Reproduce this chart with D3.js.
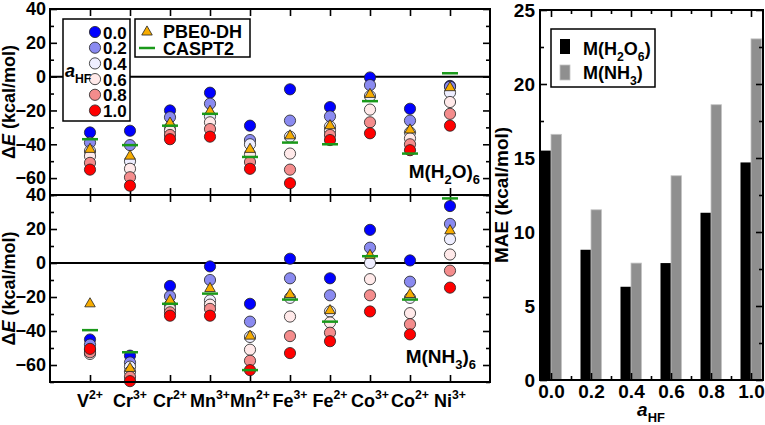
<!DOCTYPE html>
<html>
<head>
<meta charset="utf-8">
<script src="https://cdn.jsdelivr.net/npm/d3@7"></script>
<style>
  body { margin: 0; background: #fff; }
  svg { display: block; }
  text { font-family: "Liberation Sans", Arial, Helvetica, sans-serif; font-weight: bold; fill: #000; }
</style>
</head>
<body>
<div id="hook-chart"></div>
<script>
'use strict';

// --- data ---
var ions = ['V', 'Cr', 'Cr', 'Mn', 'Mn', 'Fe', 'Fe', 'Co', 'Co', 'Ni'];
var charges = ['2+', '3+', '2+', '3+', '2+', '3+', '2+', '3+', '2+', '3+'];
var aHF = [0.0, 0.2, 0.4, 0.6, 0.8, 1.0];
var aHFLabels = ['0.0', '0.2', '0.4', '0.6', '0.8', '1.0'];

// M(H2O)6 : one row per ion, one value per aHF
var h2oValues = [
  [-33, -39, -44, -47, -51, -55],
  [-32, -40.5, -50, -54.5, -59.5, -64.5],
  [-20, -24, -30, -32, -34.5, -37],
  [-9.5, -16, -23.5, -27, -31, -35.5],
  [-29, -37.5, -40, -46, -50.5, -54.5],
  [-7.5, -26, -35.5, -45.5, -55, -63],
  [-18, -23.5, -29.5, -32, -34.5, -37.5],
  [-0.5, -5, -11.5, -19.5, -27, -33.5],
  [-19, -26, -33, -36.5, -40, -43.5],
  [-5.5, -6, -9.5, -15, -22, -29]
];
var h2oPBE0 = [-43, -47, -27.5, -20.5, -43, -35, -29, -10.5, -31.5, -6.5];
var h2oCASPT2 = [-37, -40.5, -29, -22, -47.5, -39, -40, -14.5, -45.5, 2];

// M(NH3)6
var nh3Values = [
  [-45, -48, -51, -53.5, -52.5, -50.5],
  [-54.5, -58.5, -61, -64, -67, -69.5],
  [-13.5, -19.5, -24.5, -27, -29, -31],
  [-2, -10, -22, -24.5, -27, -31],
  [-24, -34.5, -43.5, -51, -57.5, -63],
  [2.5, -9, -20.5, -31.5, -43, -53],
  [-9, -19, -28.5, -35, -41, -46],
  [19.5, 9, 0, -9.5, -19, -28.5],
  [1.5, -11, -20.5, -29.5, -36, -42],
  [33.5, 23, 14, 5, -4.5, -14.5]
];
var nh3PBE0 = [-24, -62, -22, -15, -43, -18.5, -28, 4.5, -18.5, 19];
var nh3CASPT2 = [-39.5, -52.5, -24, -18, -63, -21.5, -34.5, 4, -21.5, 38];

// MAE per aHF
var maeH2O = [15.5, 8.8, 6.3, 7.9, 11.3, 14.7];
var maeNH3 = [16.6, 11.5, 7.9, 13.8, 18.6, 23.05];

var yMajor = [-60, -40, -20, 0, 20, 40];
var yMinor = [-70, -50, -30, -10, 10, 30];
var maeMajor = [0, 5, 10, 15, 20, 25];
var maeMinor = [2.5, 7.5, 12.5, 17.5, 22.5];
var aMinor = [0.1, 0.3, 0.5, 0.7, 0.9];

var circleColors = ['#0000ff', '#8a8af0', '#eeeeff', '#ffe9e9', '#f48c8c', '#ff0000'];
var triColor = '#f7ac00';
var greenColor = '#1a991a';

var width = 765, height = 425;

var svg = d3.select('#hook-chart')
  .append('svg')
  .attr('width', width)
  .attr('height', height);

// write text with sub/superscript parts
function rich(sel, parts, size) {
  var cur = 0;
  parts.forEach(function(p) {
    var target = p.sub ? size * 0.32 : (p.sup ? -size * 0.42 : 0);
    var t = sel.append('tspan').text(p.t)
      .attr('dy', target - cur);
    if (p.sub || p.sup) t.attr('font-size', size * 0.68);
    if (p.i) t.attr('font-style', 'italic');
    cur = target;
  });
  return sel;
}

function noDomain(a) { a.select('.domain').remove(); }

var x = d3.scaleLinear().domain([-1, 10]).range([50, 490]);

function panel(top, bottom, values, pbe0, caspt2, label, showX) {
  var y = d3.scaleLinear().domain([-70, 40]).range([bottom, top]);
  var g = svg.append('g');

  // ticks, all pointing inward
  g.append('g').attr('transform', 'translate(50,0)')
    .call(d3.axisLeft(y).tickValues(yMajor).tickSize(-7).tickPadding(4))
    .call(noDomain)
    .call(function(a) { a.selectAll('text').attr('font-size', 18).attr('font-family', null); });
  g.append('g').attr('transform', 'translate(50,0)')
    .call(d3.axisLeft(y).tickValues(yMinor).tickSize(-4).tickFormat('')).call(noDomain);
  g.append('g').attr('transform', 'translate(490,0)')
    .call(d3.axisRight(y).tickValues(yMajor).tickSize(-7).tickFormat('')).call(noDomain);
  g.append('g').attr('transform', 'translate(490,0)')
    .call(d3.axisRight(y).tickValues(yMinor).tickSize(-4).tickFormat('')).call(noDomain);
  g.append('g').attr('transform', 'translate(0,' + top + ')')
    .call(d3.axisTop(x).tickValues(d3.range(10)).tickSize(-7).tickFormat('')).call(noDomain);
  g.append('g').attr('transform', 'translate(0,' + bottom + ')')
    .call(d3.axisBottom(x).tickValues(d3.range(10)).tickSize(-7).tickFormat('')).call(noDomain);
  g.selectAll('.tick line').attr('stroke', '#000').attr('stroke-width', 1.6);

  // zero line
  g.append('line')
    .attr('x1', x(-1)).attr('x2', x(10))
    .attr('y1', y(0)).attr('y2', y(0))
    .attr('stroke', '#000').attr('stroke-width', 2);

  // circles
  values.forEach(function(row, i) {
    row.forEach(function(v, j) {
      g.append('circle')
        .attr('cx', x(i)).attr('cy', y(v)).attr('r', 5.6)
        .attr('fill', circleColors[j])
        .attr('stroke', '#222').attr('stroke-width', 0.8);
    });
  });
  // PBE0-DH triangles
  g.selectAll('.tri').data(pbe0).enter().append('path')
    .attr('d', d3.symbol().type(d3.symbolTriangle).size(48))
    .attr('transform', function(d, i) { return 'translate(' + x(i) + ',' + y(d) + ')'; })
    .attr('fill', triColor).attr('stroke', '#222').attr('stroke-width', 0.8);
  // CASPT2 dashes
  g.selectAll('.cas').data(caspt2).enter().append('line')
    .attr('x1', function(d, i) { return x(i) - 8; })
    .attr('x2', function(d, i) { return x(i) + 8; })
    .attr('y1', function(d) { return y(d); })
    .attr('y2', function(d) { return y(d); })
    .attr('stroke', greenColor).attr('stroke-width', 2.5);

  // frame
  g.append('rect')
    .attr('x', 50).attr('y', top)
    .attr('width', 440).attr('height', bottom - top)
    .attr('fill', 'none').attr('stroke', '#000').attr('stroke-width', 2);

  // y label
  var cy = (top + bottom) / 2;
  rich(g.append('text')
    .attr('transform', 'translate(15,' + cy + ') rotate(-90)')
    .attr('text-anchor', 'middle')
    .attr('font-size', 18),
    [{t: '\u0394'}, {t: 'E', i: true}, {t: ' (kcal/mol)'}], 18);

  // panel label
  rich(g.append('text')
    .attr('x', label.x).attr('y', label.y)
    .attr('text-anchor', 'end')
    .attr('font-size', 19), label.parts, 19);

  if (showX) {
    ions.forEach(function(ion, i) {
      rich(svg.append('text')
        .attr('x', x(i)).attr('y', bottom + 25)
        .attr('text-anchor', 'middle')
        .attr('font-size', 18),
        [{t: ion}, {t: charges[i], sup: true}], 18);
    });
  }
  return y;
}

panel(9, 195, h2oValues, h2oPBE0, h2oCASPT2,
  {x: 480, y: 178, parts: [{t: 'M(H'}, {t: '2', sub: true}, {t: 'O)'}, {t: '6', sub: true}]}, false);
panel(195, 382, nh3Values, nh3PBE0, nh3CASPT2,
  {x: 476, y: 363, parts: [{t: 'M(NH'}, {t: '3', sub: true}, {t: ')'}, {t: '6', sub: true}]}, true);

// legend 1: aHF circles
var leg1 = svg.append('g');
leg1.append('rect').attr('x', 63).attr('y', 19).attr('width', 67).attr('height', 102)
  .attr('fill', '#fff').attr('stroke', '#000').attr('stroke-width', 1.5);
aHFLabels.forEach(function(lab, j) {
  var ly = 32 + j * 15.7;
  leg1.append('circle').attr('cx', 95).attr('cy', ly).attr('r', 5.6)
    .attr('fill', circleColors[j]).attr('stroke', '#222').attr('stroke-width', 0.8);
  leg1.append('text').attr('x', 103).attr('y', ly + 6.5).attr('font-size', 17).text(lab);
});
rich(leg1.append('text').attr('x', 65).attr('y', 77).attr('font-size', 18),
  [{t: 'a', i: true}, {t: 'HF', sub: true}], 18);

// legend 2: methods
var leg2 = svg.append('g');
leg2.append('rect').attr('x', 135).attr('y', 19).attr('width', 115).attr('height', 38)
  .attr('fill', '#fff').attr('stroke', '#000').attr('stroke-width', 1.5);
leg2.append('path')
  .attr('d', d3.symbol().type(d3.symbolTriangle).size(48))
  .attr('transform', 'translate(147,32)')
  .attr('fill', triColor).attr('stroke', '#222').attr('stroke-width', 0.8);
leg2.append('line').attr('x1', 139).attr('x2', 155).attr('y1', 48).attr('y2', 48)
  .attr('stroke', greenColor).attr('stroke-width', 2.5);
leg2.append('text').attr('x', 163).attr('y', 38).attr('font-size', 18).text('PBE0-DH');
leg2.append('text').attr('x', 163).attr('y', 55).attr('font-size', 18).text('CASPT2');

// --- right panel: MAE bars ---
var bx = d3.scaleLinear().domain([-0.055, 1.06]).range([540, 763]);
var by = d3.scaleLinear().domain([0, 25]).range([380, 10]);
var barW = bx(0.0525) - bx(0);
var rg = svg.append('g');

rg.selectAll('.bh2o').data(maeH2O).enter().append('rect')
  .attr('x', function(d, i) { return bx(aHF[i]) - barW; })
  .attr('y', function(d) { return by(d); })
  .attr('width', barW)
  .attr('height', function(d) { return by(0) - by(d); })
  .attr('fill', '#000');
rg.selectAll('.bnh3').data(maeNH3).enter().append('rect')
  .attr('x', function(d, i) { return bx(aHF[i]); })
  .attr('y', function(d) { return by(d); })
  .attr('width', barW)
  .attr('height', function(d) { return by(0) - by(d); })
  .attr('fill', '#8f8f8f').attr('stroke', '#c4c4c4').attr('stroke-width', 0.8);

rg.append('g').attr('transform', 'translate(540,0)')
  .call(d3.axisLeft(by).tickValues(maeMajor).tickSize(-7).tickPadding(5))
  .call(noDomain)
  .call(function(a) { a.selectAll('text').attr('font-size', 19).attr('font-family', null); });
rg.append('g').attr('transform', 'translate(540,0)')
  .call(d3.axisLeft(by).tickValues(maeMinor).tickSize(-4).tickFormat('')).call(noDomain);
rg.append('g').attr('transform', 'translate(763,0)')
  .call(d3.axisRight(by).tickValues(maeMajor).tickSize(-7).tickFormat('')).call(noDomain);
rg.append('g').attr('transform', 'translate(763,0)')
  .call(d3.axisRight(by).tickValues(maeMinor).tickSize(-4).tickFormat('')).call(noDomain);
rg.append('g').attr('transform', 'translate(0,380)')
  .call(d3.axisBottom(bx).tickValues(aHF).tickSize(-7).tickPadding(5)
    .tickFormat(function(d, i) { return aHFLabels[i]; }))
  .call(noDomain)
  .call(function(a) { a.selectAll('text').attr('font-size', 19).attr('font-family', null); });
rg.append('g').attr('transform', 'translate(0,380)')
  .call(d3.axisBottom(bx).tickValues(aMinor).tickSize(-4).tickFormat('')).call(noDomain);
rg.append('g').attr('transform', 'translate(0,10)')
  .call(d3.axisTop(bx).tickValues(aHF).tickSize(-7).tickFormat('')).call(noDomain);
rg.append('g').attr('transform', 'translate(0,10)')
  .call(d3.axisTop(bx).tickValues(aMinor).tickSize(-4).tickFormat('')).call(noDomain);
rg.selectAll('.tick line').attr('stroke', '#000').attr('stroke-width', 1.6);

rg.append('rect').attr('x', 540).attr('y', 10).attr('width', 223).attr('height', 370)
  .attr('fill', 'none').attr('stroke', '#000').attr('stroke-width', 2);

rg.append('text')
  .attr('transform', 'translate(508,195) rotate(-90)')
  .attr('text-anchor', 'middle')
  .attr('font-size', 19)
  .text('MAE (kcal/mol)');

rich(rg.append('text').attr('x', 651).attr('y', 416).attr('text-anchor', 'middle').attr('font-size', 19),
  [{t: 'a', i: true}, {t: 'HF', sub: true}], 19);

// legend 3
var leg3 = svg.append('g');
leg3.append('rect').attr('x', 551).attr('y', 29).attr('width', 104).attr('height', 58)
  .attr('fill', '#fff').attr('stroke', '#000').attr('stroke-width', 1.5);
leg3.append('rect').attr('x', 560).attr('y', 39).attr('width', 10).attr('height', 15).attr('fill', '#000');
leg3.append('rect').attr('x', 560).attr('y', 65).attr('width', 10).attr('height', 15)
  .attr('fill', '#8f8f8f').attr('stroke', '#c4c4c4').attr('stroke-width', 0.8);
rich(leg3.append('text').attr('x', 583).attr('y', 55).attr('font-size', 18),
  [{t: 'M(H'}, {t: '2', sub: true}, {t: 'O'}, {t: '6', sub: true}, {t: ')'}], 18);
rich(leg3.append('text').attr('x', 583).attr('y', 79).attr('font-size', 18),
  [{t: 'M(NH'}, {t: '3', sub: true}, {t: ')'}], 18);
</script>
</body>
</html>
